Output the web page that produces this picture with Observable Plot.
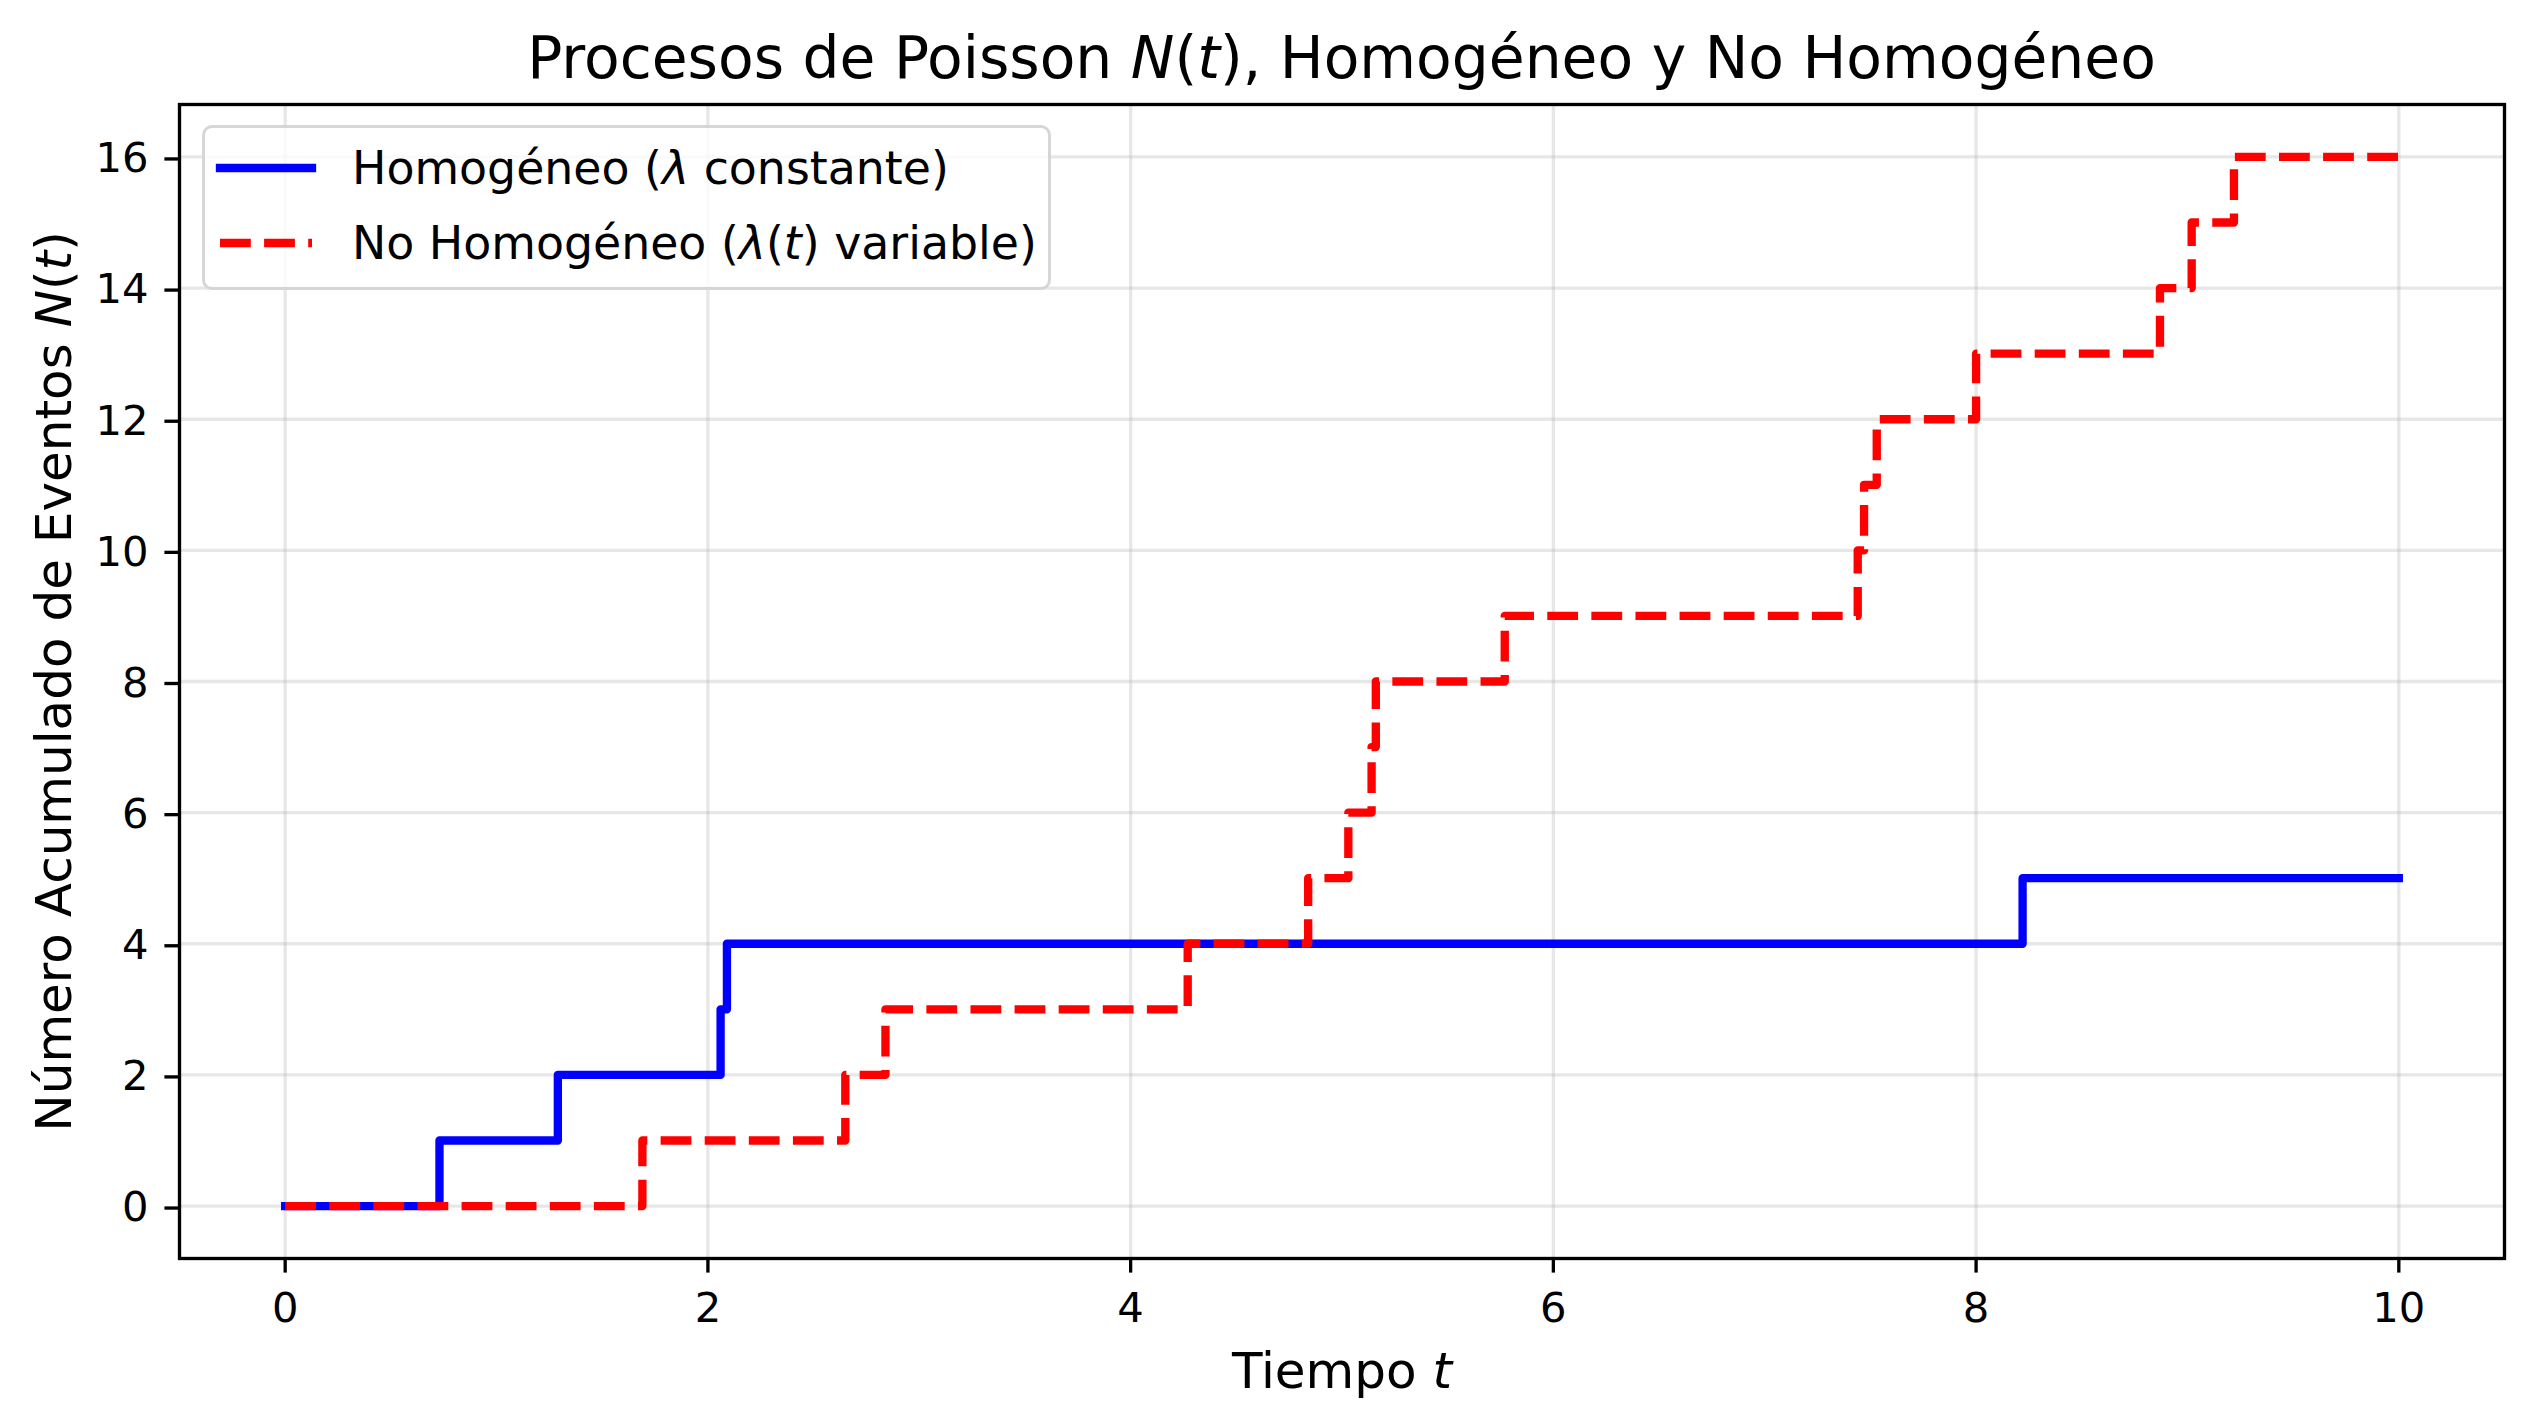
<!DOCTYPE html>
<html><head><meta charset="utf-8">
<script src="https://cdn.jsdelivr.net/npm/d3@7"></script>
<script src="https://cdn.jsdelivr.net/npm/@observablehq/plot@0.6"></script>
<style>
html,body{margin:0;padding:0;background:#fff;}
#wrap{position:relative;width:2533px;height:1428px;overflow:hidden;font-family:"DejaVu Sans";color:#000;}
#title{position:absolute;left:179px;width:2325px;top:29px;text-align:center;font-size:58.3px;line-height:1;white-space:nowrap;}
#chart{position:absolute;left:0;top:96px;}
#legendBox{position:absolute;left:202px;top:125px;width:849px;height:165px;box-sizing:border-box;border:3.33px solid rgba(204,204,204,0.8);border-radius:10px;background:rgba(255,255,255,0.8);}
#legendSw{position:absolute;left:202px;top:125px;}
.lt{position:absolute;left:352px;font-size:45.8px;line-height:1;white-space:nowrap;}
</style></head>
<body>
<div id="wrap">
  <div id="title">Procesos de Poisson <i>N</i>(<i>t</i>), Homogéneo y No Homogéneo</div>
  <div id="chart"></div>
  <div id="legendBox"></div>
  <svg id="legendSw" width="849" height="165"></svg>
</div>
<script>
// ---- data ----
const homT = [0, 0.73, 1.29, 2.06, 2.09, 8.22, 10];
const homN = [0, 1, 2, 3, 4, 5, 5];
const nonT = [0, 1.69, 2.65, 2.84, 4.27, 4.84, 5.03, 5.14, 5.16, 5.77, 7.44, 7.47, 7.53, 8.00, 8.87, 9.02, 9.22, 10];
const nonN = [0, 1, 2, 3, 4, 5, 6, 7, 8, 9, 10, 11, 12, 13, 14, 15, 16, 16];
const xTicks = [0, 2, 4, 6, 8, 10];
const yTicks = [0, 2, 4, 6, 8, 10, 12, 14, 16];
const seriesNames = ["Homogéneo (<i>λ</i> constante)", "No Homogéneo (<i>λ</i>(<i>t</i>) variable)"];
const seriesColors = ["blue", "red"];
const xLabel = "Tiempo t";
const yLabel = "Número Acumulado de Eventos N(t)";

const hom = homT.map((t, i) => ({t, n: homN[i]}));
const non = nonT.map((t, i) => ({t, n: nonN[i]}));

const LW = 8.33;
const DASH = "30.8,13.3";

const chart = Plot.plot({
  width: 2533,
  height: 1332,
  marginLeft: 179,
  marginRight: 29,
  marginTop: 8,
  marginBottom: 170,
  style: {fontFamily: "DejaVu Sans", background: "white", overflow: "visible"},
  x: {domain: [-0.5, 10.5]},
  y: {domain: [-0.8, 16.8]},
  marks: [
    Plot.gridX(xTicks, {stroke: "#b0b0b0", strokeOpacity: 0.3, strokeWidth: 3.33}),
    Plot.gridY(yTicks, {stroke: "#b0b0b0", strokeOpacity: 0.3, strokeWidth: 3.33}),
    Plot.line(hom, {x: "t", y: "n", curve: "step-after", stroke: seriesColors[0], strokeWidth: LW, strokeLinejoin: "round", strokeLinecap: "square"}),
    Plot.line(non, {x: "t", y: "n", curve: "step-after", stroke: seriesColors[1], strokeWidth: LW, strokeLinejoin: "round", strokeLinecap: "butt", strokeDasharray: DASH}),
    Plot.frame({stroke: "black", strokeWidth: 3.33}),
    Plot.axisX({ticks: xTicks, tickSize: 14.6, tickPadding: 19, fontSize: 41.7, strokeWidth: 3.33, label: null}),
    Plot.axisY({ticks: yTicks, tickSize: 14.6, tickPadding: 16.4, fontSize: 41.7, strokeWidth: 3.33, label: null, dy: 2}),
    Plot.text([xLabel], {frameAnchor: "bottom", lineAnchor: "middle", textAnchor: "middle", dy: 113, fontSize: 50, text: d => d}),
    Plot.text([yLabel], {frameAnchor: "left", lineAnchor: "middle", textAnchor: "middle", rotate: -90, dx: -125, fontSize: 50, text: d => d})
  ]
});
document.getElementById("chart").appendChild(chart);

// italic math parts in axis labels
chart.querySelectorAll("text").forEach(el => {
  if (el.textContent === xLabel) {
    el.innerHTML = 'Tiempo <tspan font-style="italic">t</tspan>';
  } else if (el.textContent === yLabel) {
    el.innerHTML = 'Número Acumulado de Eventos <tspan font-style="italic">N</tspan>(<tspan font-style="italic">t</tspan>)';
  }
});

// legend
const sw = document.getElementById("legendSw");
const ns = "http://www.w3.org/2000/svg";
const wrap = document.getElementById("wrap");
seriesNames.forEach((name, i) => {
  const y = 43 + i * 75;
  const ln = document.createElementNS(ns, "line");
  ln.setAttribute("x1", 18); ln.setAttribute("x2", 110);
  ln.setAttribute("y1", y); ln.setAttribute("y2", y);
  ln.setAttribute("stroke", seriesColors[i]);
  ln.setAttribute("stroke-width", LW);
  if (i === 0) ln.setAttribute("stroke-linecap", "square");
  else { ln.setAttribute("stroke-linecap", "butt"); ln.setAttribute("stroke-dasharray", DASH); }
  sw.appendChild(ln);
  const lt = document.createElement("div");
  lt.className = "lt";
  lt.style.top = (146.3 + i * 75) + "px";
  lt.innerHTML = name;
  wrap.appendChild(lt);
});
</script>
</body></html>
